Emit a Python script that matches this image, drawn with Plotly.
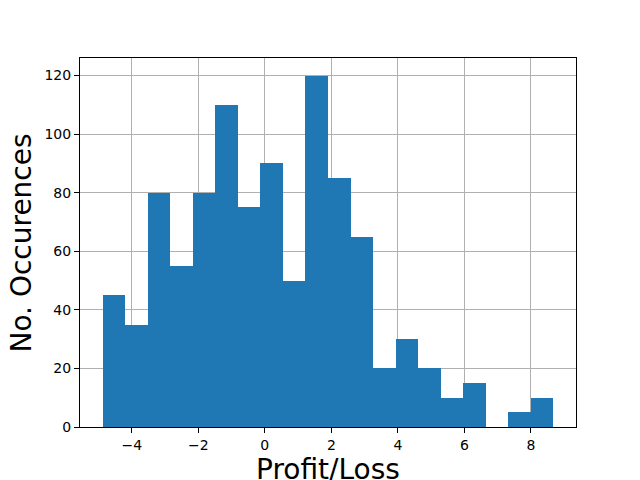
import numpy as np
import plotly.graph_objects as go

# histogram bins (20 equal-width bins) and counts
bin_lo = -4.88
bin_hi = 8.68
counts = [45, 35, 80, 55, 80, 110, 75, 90, 50, 120,
          85, 65, 20, 30, 20, 10, 15, 0, 5, 10]
x_ticks = [-4, -2, 0, 2, 4, 6, 8]
y_ticks = [0, 20, 40, 60, 80, 100, 120]

edges = np.linspace(bin_lo, bin_hi, len(counts) + 1)
centers = (edges[:-1] + edges[1:]) / 2
width = edges[1] - edges[0]
pad = (bin_hi - bin_lo) * 0.05

fig = go.Figure()
fig.add_trace(go.Bar(x=centers, y=counts, width=width,
                     marker=dict(color='#1f77b4', line=dict(width=0))))

axis_style = dict(showline=True, linecolor='black', linewidth=1, mirror=True,
                  ticks='outside', ticklen=5, tickcolor='black', tickwidth=1,
                  showgrid=True, gridcolor='#b0b0b0', gridwidth=1,
                  zeroline=False, layer='above traces', automargin=False,
                  tickfont=dict(family='DejaVu Sans', size=14, color='black'))

fig.update_xaxes(range=[bin_lo - pad, bin_hi + pad], tickvals=x_ticks, **axis_style)
fig.update_yaxes(range=[0, max(counts) * 1.05], tickvals=y_ticks, **axis_style)

# axis titles placed as annotations, like matplotlib's labels
title_font = dict(family='DejaVu Sans', size=28, color='black')
fig.add_annotation(text='Profit/Loss', xref='paper', yref='paper',
                   x=0.5, y=-0.114, xanchor='center', yanchor='middle',
                   showarrow=False, font=title_font, borderpad=0)
fig.add_annotation(text='No. Occurences', xref='paper', yref='paper',
                   x=-0.117, y=0.5, xanchor='center', yanchor='middle',
                   textangle=-90, showarrow=False, font=title_font)

fig.update_layout(width=640, height=480, bargap=0, showlegend=False,
                  plot_bgcolor='white', paper_bgcolor='white',
                  margin=dict(l=80, r=64, t=58, b=53))

# drop the browser's default body margin so the figure sits at the page corner
fig.write_html("out.html", config={'displayModeBar': False},
               post_script="document.body.style.margin='0';")
